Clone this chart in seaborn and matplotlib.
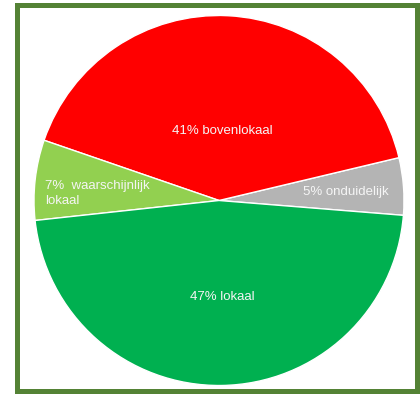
import matplotlib
matplotlib.use("Agg")
import matplotlib.pyplot as plt
import seaborn as sns
from matplotlib.patches import Rectangle

sns.set_theme(style="white")
plt.rcParams['font.family'] = ['Liberation Sans', 'DejaVu Sans']

# Data (drawing order, counter-clockwise from the right)
categories = ["onduidelijk", "bovenlokaal", "waarschijnlijk lokaal", "lokaal"]
percentages = [5, 41, 7, 47]
labels = ["5% onduidelijk", "41% bovenlokaal", "7%  waarschijnlijk\nlokaal", "47% lokaal"]

# Styles
colors = ["#B4B4B4", "#FF0000", "#92D050", "#00B050"]
label_pos = [(0.686, 0.046, "center"), (0.02, 0.376, "center"),
             (-0.941, 0.038, "left"), (0.016, -0.522, "center")]

W, H = 420, 394
fig = plt.figure(figsize=(W / 100, H / 100), dpi=100)
fig.patch.set_facecolor("white")

# green frame
fig.patches.append(Rectangle((16.5 / W, 1 - 390.5 / H), (417 - 16.5) / W, (390.5 - 4.5) / H,
                             transform=fig.transFigure, fill=False,
                             edgecolor="#548235", linewidth=3.6))

cx, cy, r = 219, 200.5, 185
ax = fig.add_axes([(cx - r) / W, 1 - (cy + r) / H, 2 * r / W, 2 * r / H])
wedges, _ = ax.pie(percentages, colors=colors, startangle=-4.6, counterclock=True,
                   wedgeprops=dict(edgecolor="white", linewidth=1.0))
ax.set_xlim(-1, 1)
ax.set_ylim(-1, 1)
ax.set_aspect("auto")
ax.axis("off")

for lab, (x, y, ha) in zip(labels, label_pos):
    ax.text(x, y, lab, ha=ha, va="center", color="#F5F5F5", fontsize=9.5,
            multialignment="left", linespacing=1.3)

fig.savefig("out.png", dpi=100)
